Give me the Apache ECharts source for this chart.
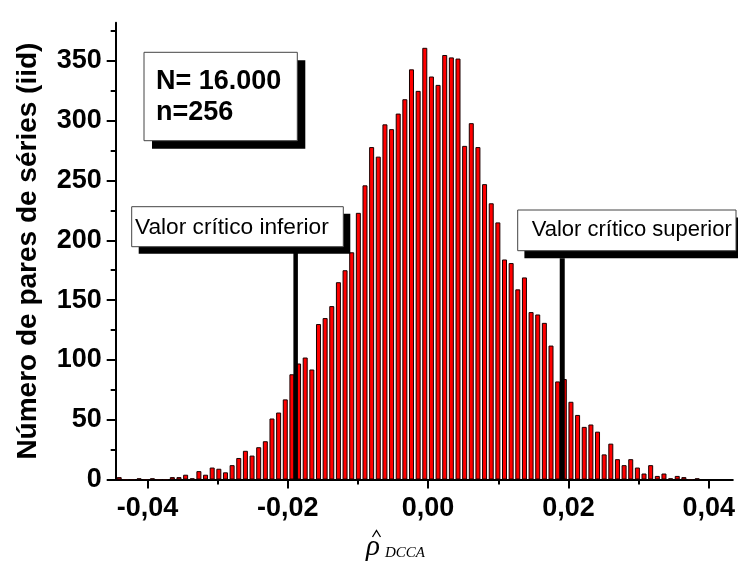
<!DOCTYPE html>
<html>
<head>
<meta charset="utf-8">
<script src="https://cdn.jsdelivr.net/npm/echarts@6/dist/echarts.min.js"></script>
<style>html,body{margin:0;padding:0;background:#fff}#c{width:738px;height:561px}</style>
</head>
<body>
<div id="c"></div>
<script>
// ---- data ----
const binStart = -0.044035;   // centre of first histogram bin
const binWidth = 0.000947;    // histogram bin width
const counts = [2,0,0,1,0,1,0,0,2,2,4,1,7,4,10,9,6,12,18,24,20,27,32,51,56,67,88,97,102,92,
  130,135,145,165,175,190,223,246,278,270,297,293,306,318,343,325,361,337,330,355,353,352,
  279,298,278,247,231,215,184,181,159,169,140,138,131,112,82,84,65,54,44,46,40,21,30,17,12,17,
  10,5,12,3,5,1,3,2,0,1];
const xMajorTicks = [-0.04, -0.02, 0, 0.02, 0.04];
const xTickLabels = ['-0,04', '-0,02', '0,00', '0,02', '0,04'];
const xMinorTicks = [-0.03, -0.01, 0.01, 0.03];
const yMinorTicks = [25, 75, 125, 175, 225, 275, 325, 375];
const critLower = -0.01888, critUpper = 0.01912;
const critLowerTop = 190, critUpperTop = 185;
const infoLines = ['N= 16.000', 'n=256'];
const labelLower = 'Valor crítico inferior';
const labelUpper = 'Valor crítico superior';
const yTitle = 'Número de pares de séries (iid)';

const barData = counts.map((c, i) => [binStart + i * binWidth, c]);

const chart = echarts.init(document.getElementById('c'), null, {renderer: 'canvas'});
const F = 'Liberation Sans, Arial, sans-serif';
const SERIF = 'Liberation Serif, Times New Roman, serif';
const xMin = -0.04453, xMax = 0.04343;

const option = {
  animation: false,
  backgroundColor: '#fff',
  grid: {left: 115.7, right: 0, top: 22.7, bottom: 81.5},
  xAxis: [{
    type: 'value', min: xMin, max: xMax,
    axisLine: {show: true, onZero: false, lineStyle: {color: '#000', width: 2}},
    axisTick: {show: true, length: 9, lineStyle: {color: '#000', width: 2}, customValues: xMajorTicks},
    axisLabel: {show: true, customValues: xMajorTicks, margin: 16,
      fontFamily: F, fontWeight: 'bold', fontSize: 27, color: '#000',
      formatter: v => { let b = 0; xMajorTicks.forEach((t, i) => { if (Math.abs(t - v) < Math.abs(xMajorTicks[b] - v)) b = i; }); return xTickLabels[b]; }},
    splitLine: {show: false}
  }, {
    type: 'value', min: xMin, max: xMax, position: 'bottom',
    axisLine: {show: false, onZero: false},
    axisTick: {show: true, length: 5, lineStyle: {color: '#000', width: 2}, customValues: xMinorTicks},
    axisLabel: {show: false},
    splitLine: {show: false}
  }],
  yAxis: [{
    type: 'value', min: 0, max: 382, interval: 50,
    axisLine: {show: true, onZero: false, lineStyle: {color: '#000', width: 2}},
    axisTick: {show: true, length: 9, lineStyle: {color: '#000', width: 2}},
    axisLabel: {fontFamily: F, fontWeight: 'bold', fontSize: 27, color: '#000', margin: 14,
      showMaxLabel: false},
    splitLine: {show: false},
    name: yTitle, nameLocation: 'middle', nameGap: 73, nameRotate: 90,
    nameTextStyle: {fontFamily: F, fontWeight: 'bold', fontSize: 28, color: '#000'}
  }, {
    type: 'value', min: 0, max: 382, position: 'left',
    axisLine: {show: false, onZero: false},
    axisTick: {show: true, length: 5, lineStyle: {color: '#000', width: 2}, customValues: yMinorTicks},
    axisLabel: {show: false},
    splitLine: {show: false}
  }],
  series: [{
    type: 'bar', data: barData, barWidth: 5, xAxisIndex: 0, yAxisIndex: 0,
    itemStyle: {color: '#ff0000', borderColor: '#1a0000', borderWidth: 1},
    z: 2
  }, {
    type: 'line', data: [[critLower, 0], [critLower, critLowerTop]], symbol: 'none',
    lineStyle: {color: '#000', width: 4.5}, z: 4
  }, {
    type: 'line', data: [[critUpper, 0], [critUpper, critUpperTop]], symbol: 'none',
    lineStyle: {color: '#000', width: 5}, z: 4
  }],
  graphic: [
    // info box
    {type: 'rect', shape: {x: 152, y: 60.3, width: 153.3, height: 88.4}, style: {fill: '#000'}, z: 10},
    {type: 'rect', shape: {x: 144, y: 52.3, width: 153.3, height: 88.4}, style: {fill: '#fff', stroke: '#444', lineWidth: 1}, z: 11},
    {type: 'text', x: 156, y: 81.3, style: {text: infoLines[0], font: 'bold 27px ' + F, fill: '#000', verticalAlign: 'middle'}, z: 12},
    {type: 'text', x: 156, y: 112.5, style: {text: infoLines[1], font: 'bold 27px ' + F, fill: '#000', verticalAlign: 'middle'}, z: 12},
    // lower label box
    {type: 'rect', shape: {x: 138.7, y: 213.7, width: 211.6, height: 40}, style: {fill: '#000'}, z: 10},
    {type: 'rect', shape: {x: 131.7, y: 206.7, width: 211.6, height: 40}, style: {fill: '#fff', stroke: '#444', lineWidth: 1}, z: 11},
    {type: 'text', x: 135, y: 227.5, style: {text: labelLower, font: '22.7px ' + F, fill: '#000', verticalAlign: 'middle'}, z: 12},
    // upper label box
    {type: 'rect', shape: {x: 524.4, y: 217.6, width: 230, height: 40.7}, style: {fill: '#000'}, z: 10},
    {type: 'rect', shape: {x: 517.7, y: 210, width: 218.3, height: 40.7}, style: {fill: '#fff', stroke: '#444', lineWidth: 1}, z: 11},
    {type: 'text', x: 531.7, y: 229.5, style: {text: labelUpper, font: '22px ' + F, fill: '#000', verticalAlign: 'middle'}, z: 12},
    // x axis title: rho-hat with subscript DCCA
    {type: 'text', x: 366, y: 547, style: {text: 'ρ', font: 'italic 29px ' + SERIF, fill: '#000', verticalAlign: 'middle'}, z: 12},
    {type: 'polyline', shape: {points: [[372.5, 537], [376.5, 530.5], [380.5, 537]]}, style: {stroke: '#000', lineWidth: 1.3, fill: null}, z: 12},
    {type: 'text', x: 385, y: 553, style: {text: 'DCCA', font: 'italic 15px ' + SERIF, fill: '#000', verticalAlign: 'middle'}, z: 12}
  ]
};
chart.setOption(option);
</script>
</body>
</html>
